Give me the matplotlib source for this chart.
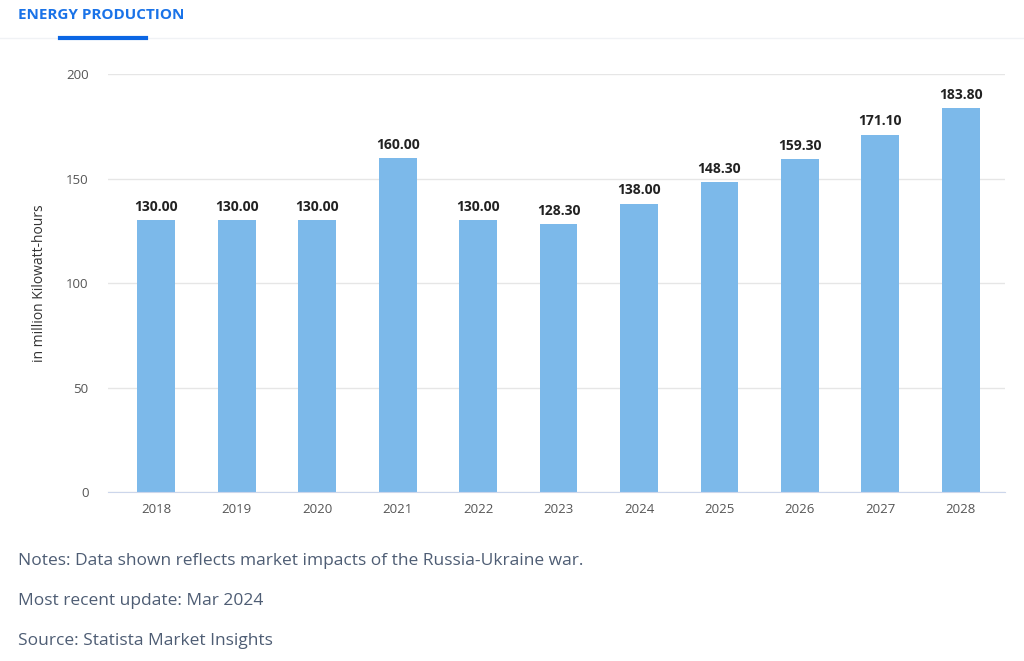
import matplotlib.pyplot as plt

years = ['2018', '2019', '2020', '2021', '2022', '2023', '2024', '2025', '2026', '2027', '2028']
values = [130.0, 130.0, 130.0, 160.0, 130.0, 128.3, 138.0, 148.3, 159.3, 171.1, 183.8]

plt.rcParams['font.family'] = ['Open Sans', 'DejaVu Sans']

fig = plt.figure(figsize=(10.24, 6.61), dpi=100)
ax = fig.add_axes([0.1055, 0.2557, 0.876, 0.632])

x = range(len(years))
ax.bar(x, values, width=0.47, color='#7cb9ea', zorder=2)
for i, v in zip(x, values):
    ax.text(i, v + 3, f'{v:.2f}', ha='center', va='bottom', fontsize=10,
            fontweight='bold', color='#222222')

ax.set_xlim(-0.6, 10.55)
ax.set_ylim(0, 200)
ax.set_yticks([0, 50, 100, 150, 200])
ax.set_xticks(list(x))
ax.set_xticklabels(years)
ax.grid(axis='y', color='#e6e6e6', linewidth=1, zorder=0)
for s in ['top', 'right', 'left']:
    ax.spines[s].set_visible(False)
ax.spines['bottom'].set_color('#ccd6eb')
ax.tick_params(axis='y', length=0, pad=14, labelsize=9.5, labelcolor='#555555')
ax.tick_params(axis='x', length=0, pad=8, labelsize=9.5, labelcolor='#555555')
ax.set_ylabel('in million Kilowatt-hours', fontsize=10, color='#333333', labelpad=14)

fig.text(0.018, 0.978, 'ENERGY PRODUCTION', fontsize=11, fontweight='bold',
         color='#1a73e8', va='center')
fig.add_artist(plt.Line2D([0, 1], [0.943, 0.943], color='#f0f2f5', linewidth=1))
fig.add_artist(plt.Line2D([0.059, 0.143], [0.943, 0.943], color='#0b66e4', linewidth=3))

notes = ['Notes: Data shown reflects market impacts of the Russia-Ukraine war.',
         'Most recent update: Mar 2024',
         'Source: Statista Market Insights']
for i, t in enumerate(notes):
    fig.text(0.018, 0.151 - i * 0.0605, t, fontsize=12.5, color='#4e5d74', va='center')

fig.savefig('out.png', dpi=100, facecolor='white')
